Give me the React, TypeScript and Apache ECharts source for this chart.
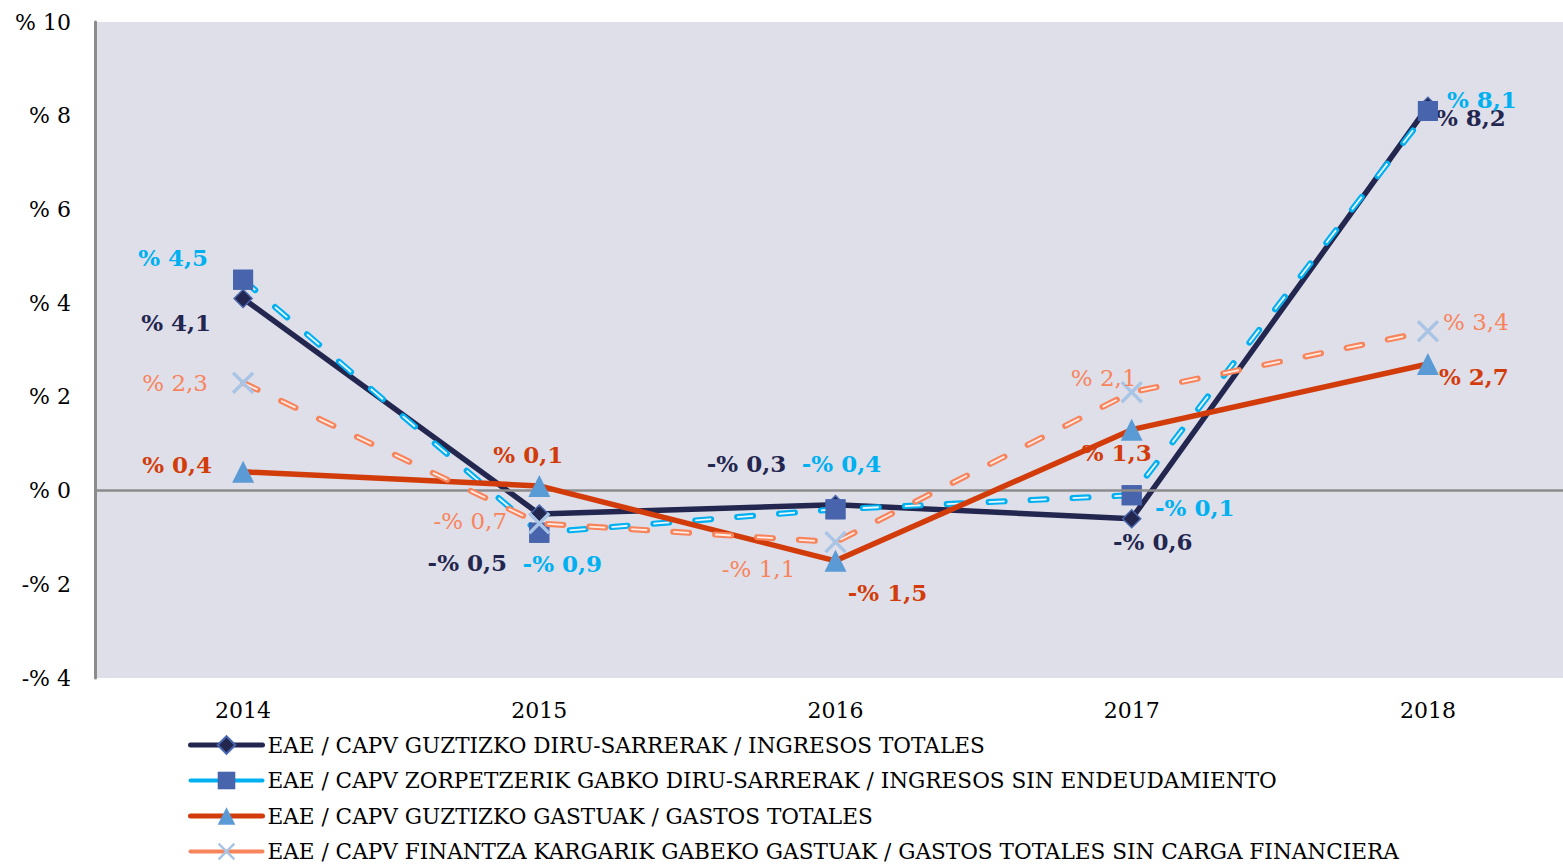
import React, { useEffect, useRef } from "react";
import * as echarts from "echarts";

const categories = ["2014", "2015", "2016", "2017", "2018"];
const yTicks = { min: -4, max: 10, interval: 2 };

const names = [
  "EAE / CAPV GUZTIZKO DIRU-SARRERAK / INGRESOS TOTALES",
  "EAE / CAPV ZORPETZERIK GABKO DIRU-SARRERAK / INGRESOS SIN ENDEUDAMIENTO",
  "EAE / CAPV GUZTIZKO GASTUAK / GASTOS TOTALES",
  "EAE / CAPV FINANTZA KARGARIK GABEKO GASTUAK / GASTOS TOTALES SIN CARGA FINANCIERA",
];

const ingresosTotales = [4.1, -0.5, -0.3, -0.6, 8.2];
const ingresosSinEndeud = [4.5, -0.9, -0.4, -0.1, 8.1];
const gastosTotales = [0.4, 0.1, -1.5, 1.3, 2.7];
const gastosSinCarga = [2.3, -0.7, -1.1, 2.1, 3.4];

// label offsets (layout only)
const offNavy = [[-67, 24], [-72, 48], [-89, -41], [21, 23], [43, 11]];
const offCyan = [[-70, -22], [23, 31], [6, -46], [63, 12], [54, -12]];
const offRed = [[-66, -7], [-11, -31], [52, 32], [-15, 23], [46, 12]];
const offSalmon = [[-68, 0], [-69, -2], [-77, 27], [-28, -14], [48, -9]];

const FONT = "DejaVu Serif";
const X_PATH = "path://M0,1L1,0L5,4L9,0L10,1L6,5L10,9L9,10L5,6L1,10L0,9L4,5Z";
const DASH = [16, 26];

function fmt(v: number) {
  return (v < 0 ? "-% " : "% ") + Math.abs(v).toFixed(1).replace(".", ",");
}

function withLabels(vals: number[], offs: number[][]) {
  return vals.map((v, i) => ({ value: v, label: { offset: offs[i] } }));
}

function labelStyle(color: string, bold: boolean) {
  return {
    show: true,
    position: "inside",
    formatter: (p: any) => fmt(p.value),
    color,
    fontSize: 23,
    fontWeight: bold ? "bold" : "normal",
    fontFamily: FONT,
  };
}

export default function App() {
  const ref = useRef<HTMLDivElement>(null);
  useEffect(() => {
    if (!ref.current) return;
    const chart = echarts.init(ref.current, undefined, { renderer: "svg" });
    const navy = "#23264F";
    const cyan = "#00B0F0";
    const red = "#D23C0A";
    const salmon = "#F8845C";
    const option: any = {
      animation: false,
      backgroundColor: "#FFFFFF",
      grid: {
        left: 95,
        top: 22,
        right: 0,
        bottom: 189,
        show: true,
        backgroundColor: "#DFDFE9",
        borderWidth: 0,
      },
      legend: {
        orient: "vertical",
        left: 188,
        top: 734,
        padding: 0,
        itemWidth: 72,
        itemHeight: 22,
        itemGap: 13.5,
        textStyle: { fontFamily: FONT, fontSize: 21.6, color: "#000", lineHeight: 22 },
        data: [
          { name: names[0], lineStyle: { width: 5, cap: "round" } },
          { name: names[1], lineStyle: { type: "solid", width: 4, cap: "round" } },
          { name: names[2], lineStyle: { width: 5, cap: "round" } },
          { name: names[3], lineStyle: { type: "solid", width: 4, cap: "round" } },
        ],
      },
      xAxis: {
        type: "category",
        data: categories,
        boundaryGap: true,
        axisLine: { show: false, onZero: false },
        axisTick: { show: false },
        axisLabel: { fontFamily: FONT, fontSize: 22, color: "#000", margin: 21 },
      },
      yAxis: {
        type: "value",
        min: yTicks.min,
        max: yTicks.max,
        interval: yTicks.interval,
        axisLine: { show: true, lineStyle: { color: "#8C8C8C", width: 3 } },
        axisTick: { show: false },
        splitLine: { show: false },
        axisLabel: {
          fontFamily: FONT,
          fontSize: 22,
          color: "#000",
          margin: 24,
          formatter: (v: number) => (v < 0 ? "-% " + -v : "% " + v),
        },
      },
      series: [
        {
          name: "zero",
          type: "line",
          data: [],
          z: 1,
          silent: true,
          markLine: {
            silent: true,
            symbol: "none",
            label: { show: false },
            lineStyle: { color: "#8C8C8C", width: 2.5, type: "solid" },
            data: [{ yAxis: 0 }],
          },
        },
        {
          name: names[0],
          type: "line",
          z: 2,
          data: withLabels(ingresosTotales, offNavy),
          symbol: "diamond",
          symbolSize: 18,
          itemStyle: { color: navy, borderColor: "#4765AC", borderWidth: 1.5 },
          lineStyle: { color: navy, width: 5.5 },
          label: labelStyle(navy, true),
        },
        {
          name: names[1],
          type: "line",
          z: 3,
          data: ingresosSinEndeud,
          symbol: "rect",
          symbolSize: 20,
          itemStyle: { color: "#4764AD" },
          lineStyle: { color: cyan, width: 6, type: DASH, cap: "round" },
        },
        {
          name: names[1] + " ",
          type: "line",
          z: 4,
          data: withLabels(ingresosSinEndeud, offCyan),
          symbol: "rect",
          symbolSize: 20,
          itemStyle: { color: "#4764AD" },
          lineStyle: { color: "#EAF6FD", width: 1.8, type: DASH, cap: "butt" },
          label: labelStyle(cyan, true),
        },
        {
          name: names[2],
          type: "line",
          z: 5,
          data: withLabels(gastosTotales, offRed),
          symbol: "triangle",
          symbolSize: 22,
          itemStyle: { color: "#5B9BD5" },
          lineStyle: { color: red, width: 5.5 },
          label: labelStyle(red, true),
        },
        {
          name: names[3],
          type: "line",
          z: 6,
          data: gastosSinCarga,
          symbol: X_PATH,
          symbolSize: 22,
          itemStyle: { color: "#A9C4E4" },
          lineStyle: { color: salmon, width: 6, type: DASH, cap: "round" },
        },
        {
          name: names[3] + " ",
          type: "line",
          z: 7,
          data: withLabels(gastosSinCarga, offSalmon),
          symbol: X_PATH,
          symbolSize: 22,
          itemStyle: { color: "#A9C4E4" },
          lineStyle: { color: "#FDEDE7", width: 1.8, type: DASH, cap: "butt" },
          label: labelStyle(salmon, false),
        },
      ],
    };
    chart.setOption(option);
    return () => chart.dispose();
  }, []);
  return (
    <div
      style={{
        position: "absolute",
        left: 0,
        top: 0,
        width: 1563,
        height: 867,
        overflow: "hidden",
      }}
    >
      <div ref={ref} style={{ width: 1576, height: 867 }} />
    </div>
  );
}
